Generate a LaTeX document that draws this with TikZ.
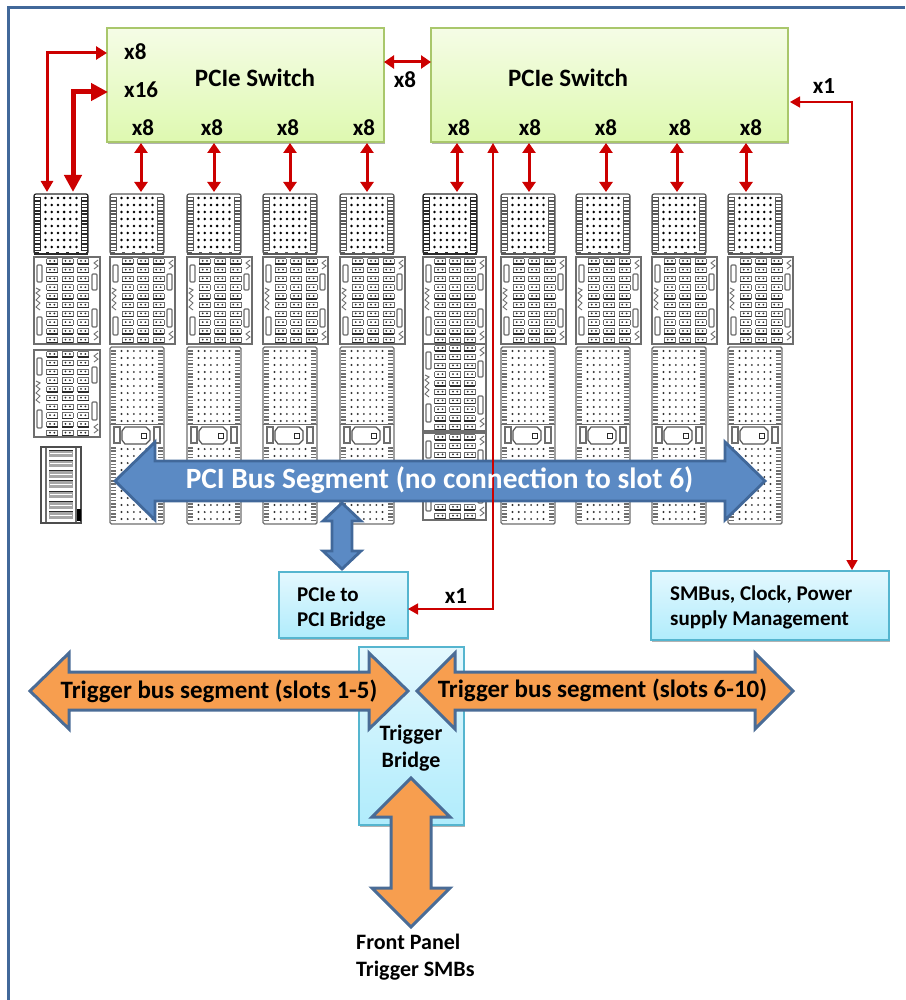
\documentclass[tikz,border=0pt]{standalone}
\usepackage{fontspec}
\setmainfont{Carlito}
\usetikzlibrary{arrows.meta,shadows}
\definecolor{frameblue}{HTML}{41689A}
\definecolor{redc}{HTML}{CC0000}
\definecolor{busfill}{HTML}{5B8AC4}
\definecolor{busline}{HTML}{41689A}
\definecolor{orfill}{HTML}{F79E4F}
\definecolor{orline}{HTML}{4A6C96}
\definecolor{grnline}{HTML}{A9C76B}
\definecolor{bluline}{HTML}{55B5CF}
\definecolor{mg}{HTML}{6E6E6E}
\definecolor{md}{HTML}{2A2A2A}
\tikzset{
  x=1pt,y=-1pt,
  softshadow/.style={drop shadow={shadow xshift=1pt,shadow yshift=-2pt,opacity=.3,fill=black}},
  greenbox/.style={draw=grnline,line width=1.6pt,top color={rgb,255:red,245;green,252;blue,230},bottom color={rgb,255:red,222;green,249;blue,176},inner sep=0,outer sep=0,softshadow},
  bluebox/.style={draw=bluline,line width=1.6pt,top color={rgb,255:red,228;green,248;blue,254},bottom color={rgb,255:red,176;green,236;blue,252},inner sep=0,outer sep=0,softshadow},
  lbl/.style={font=\fontsize{23}{27}\selectfont\bfseries,inner sep=0,text=black},
  swlbl/.style={font=\fontsize{25}{29}\selectfont\bfseries,inner sep=0,text=black},
  triglbl/.style={font=\fontsize{25}{29}\selectfont\bfseries,inner sep=0,text=black},
  boxlbl/.style={font=\fontsize{21}{25}\selectfont\bfseries,inner sep=0,align=left,text=black},
  boxlblb/.style={font=\fontsize{22}{27}\selectfont\bfseries,inner sep=0,align=left,text=black},
  redbi/.style={draw=redc,line width=3pt,{Triangle[length=10pt,width=13pt]}-{Triangle[length=10pt,width=13pt]}},
  redthin/.style={draw=redc,line width=1.5pt,{Triangle[length=10pt,width=11pt]}-{Triangle[length=10pt,width=11pt]}},
  busarrow/.style={fill=busfill,draw=busline,line width=2.8pt},
  orarrow/.style={fill=orfill,draw=orline,line width=3pt},
}
\newcommand\dblH[7]{\draw[#1] (#2,#4) -- (#2+#5,#4-#7) -- (#2+#5,#4-#6) -- (#3-#5,#4-#6) -- (#3-#5,#4-#7) -- (#3,#4) -- (#3-#5,#4+#7) -- (#3-#5,#4+#6) -- (#2+#5,#4+#6) -- (#2+#5,#4+#7) -- cycle;}
\newcommand\dblV[7]{\draw[#1] (#4,#2) -- (#4-#7,#2+#5) -- (#4-#6,#2+#5) -- (#4-#6,#3-#5) -- (#4-#7,#3-#5) -- (#4,#3) -- (#4+#7,#3-#5) -- (#4+#6,#3-#5) -- (#4+#6,#2+#5) -- (#4+#7,#2+#5) -- cycle;}
\newcommand\rails[5]{% x-left, x-right, y-from, y-to, colour
  \draw[#5,line width=4.5pt,dash pattern=on 1.5pt off 1.8pt] (#1+3,#3) -- (#1+3,#4) (#2-3,#3) -- (#2-3,#4);
}
% dense dotted header module
\newcommand\modA[3]{\begin{scope}[shift={(#1,#2)}]
  \draw[fill=white,draw=#3,line width=1.2pt,rounded corners=2pt] (0,0) rectangle (54,60);
  \rails{0.5}{53.5}{3}{57}{#3}
  \draw[#3,line width=1.3pt] (0.5,2) -- (0.5,58) (6.5,3) -- (6.5,57) (47.5,3) -- (47.5,57) (53.5,2) -- (53.5,58);
  \foreach \i in {0,...,5}\foreach \j in {0,...,7}
    \fill[black] (11.5+6.2*\i,4+7*\j) circle (1.4pt);
  \draw[#3,line width=2.6pt] (0,59.5) -- (54,59.5);
  \foreach \i in {0,...,4} \draw[white,line width=1pt] (5+10*\i,58) -- (12+10*\i,58);
\end{scope}}
% double-row box module
\newcommand\modB[3]{\begin{scope}[shift={(#1,#2)}]
  \draw[fill=white,draw=mg,line width=1.4pt] (0,0) -- (#3,0) -- (#3,87) -- (0,87) -- cycle;
  \draw[mg,line width=1.1pt,fill=white,rounded corners=1pt] (3,8) rectangle (8,25) (3,60) rectangle (8,78);
  \draw[mg,line width=1.1pt,fill=white,rounded corners=1pt] (#3-8,17) rectangle (#3-3,33) (#3-8,52) rectangle (#3-3,70);
  \draw[mg,line width=.9pt] (2,31) -- (6,33) -- (2,36) -- (6,39) -- (2,43) -- (6,46) -- (2,50) -- (6,53);
  \draw[mg,line width=.9pt] (#3-2,3) -- (#3-6,6) -- (#3-2,9) -- (#3-6,12);
  \draw[mg,line width=.9pt] (#3-2,74) -- (#3-6,77) -- (#3-2,80) -- (#3-6,83);
  \foreach \i in {0,1,2}\foreach \j in {0,...,9}{
    \pgfmathsetmacro\cx{#3*(0.275+0.235*\i)}
    \pgfmathsetmacro\cy{1.5+8.75*\j}
    \draw[mg,line width=.8pt] (\cx-5.5,\cy) -- (\cx-5.5,\cy+5.5) (\cx+5.5,\cy) -- (\cx+5.5,\cy+5.5) (\cx-5.5,\cy) -- (\cx+5.5,\cy);
    \draw[md,line width=1.4pt] (\cx-5.5,\cy+5.5) -- (\cx+5.5,\cy+5.5);
    \fill[md] (\cx-2.2,\cy+2.4) circle (1pt) (\cx+2.2,\cy+2.4) circle (1pt);
  }
\end{scope}}
% long dotted module with key
\newcommand\modC[2]{\begin{scope}[shift={(#1,#2)}]
  \draw[fill=white,draw=mg,line width=1.4pt,rounded corners=1.5pt] (0,0) rectangle (54,177);
  \rails{0.5}{53.5}{3}{76}{mg}
  \rails{0.5}{53.5}{100}{175}{mg}
  \foreach \i in {0,...,5}{
    \foreach \j in {0,...,10} \fill[black!80] (11.5+6.2*\i,4+7*\j) circle (1.05pt);
    \foreach \j in {0,...,10} \fill[black!80] (11.5+6.2*\i,102+7*\j) circle (1.05pt);}
  \draw[mg,line width=1pt] (0,77) -- (54,77);
  \draw[mg,line width=1.2pt,fill=white] (4,80) rectangle (10,96) (44,80) rectangle (50,96);
  \draw[md!80,line width=1.2pt,fill=white] (15,80) -- (36,80) -- (40,84) -- (40,93) -- (36,97) -- (15,97) -- (12,93) -- (12,84) -- cycle;
  \draw[md,line width=.9pt] (31,86) rectangle (36,91);
\end{scope}}
% ladder module
\newcommand\modD[2]{\begin{scope}[shift={(#1,#2)}]
  \draw[fill=white,draw=mg!70!black,line width=1.4pt] (0,0) rectangle (40,76);
  \draw[mg,line width=1.2pt] (5,1) -- (5,75) (35,1) -- (35,75);
  \foreach \j in {0,...,6}{
    \fill[black!35] (8,3+10.3*\j) rectangle (32,10+10.3*\j);
    \draw[md,line width=.9pt] (8,3+10.3*\j) -- (32,3+10.3*\j);
    \draw[white,line width=.7pt] (9,6.5+10.3*\j) -- (31,6.5+10.3*\j);
  }
  \fill[black] (36,62) rectangle (40,74);
\end{scope}}
\begin{document}
\begin{tikzpicture}
\useasboundingbox (0,0) rectangle (905,1000);
\draw[frameblue,line width=3pt] (905,8) -- (8.5,8) -- (8.5,1000);

% slot hardware
\modA{34}{194}{md}
\modB{34}{257}{66}
\modB{34}{350}{66}
\modD{41}{447}
\foreach \x in {110,187,263,340,501,576,652,728}{
  \modA{\x}{194}{black!65}
  \modB{\x}{257}{65}
  \modC{\x}{347}
}
\modA{423}{194}{md}
\modB{423}{257}{63}
\modB{423}{344}{63}
\modB{423}{433}{63}

% boxes
\node[greenbox,minimum width=277pt,minimum height=114pt] (sw1) at (245.5,85) {};
\node[greenbox,minimum width=357pt,minimum height=114pt] (sw2) at (609.5,85) {};
\node[bluebox,minimum width=129pt,minimum height=66pt] (pcib) at (343.5,605) {};
\node[bluebox,minimum width=238pt,minimum height=69pt] (smb) at (770,605.5) {};
\node[bluebox,minimum width=105pt,minimum height=178pt] (trig) at (411.5,736) {};

% big arrows
\dblV{busarrow}{503}{569}{342}{18}{10}{19}
\dblH{busarrow}{115}{765}{481}{40}{20}{39}
\dblH{orarrow}{30}{408}{691}{39}{19}{38}
\dblH{orarrow}{417}{793}{691}{38}{19}{38}
\dblV{orarrow}{778}{927}{411}{39}{20}{39}

% red connectors
\coordinate (sxa) at (47,192);
\coordinate (sxb) at (73,192);
\coordinate (j1) at (47,53);
\coordinate (i1) at (sw1.west |- j1);
\coordinate (j2) at (73,92);
\coordinate (i2) at (sw1.west |- j2);
\draw[draw=redc,line width=3pt,{Triangle[length=11pt,width=12pt]}-{Triangle[length=11pt,width=13pt]}] (sxa) -- (j1) -- (i1);
\draw[draw=redc,line width=5pt,{Triangle[length=17pt,width=17pt]}-{Triangle[length=17pt,width=17pt]}] (sxb) -- (j2) -- ([xshift=1pt]i2);
\foreach \x in {141,214,290,367,457,529,606,677,746}{
  \coordinate (up) at (\x,143);
  \coordinate (dn) at (\x,192);
  \draw[redbi] (up) -- (dn);
}
\coordinate (xa) at (sw1.east |- 0,62);
\coordinate (xb) at (sw2.west |- 0,62);
\draw[redbi] (xa) -- (xb);
\coordinate (r1) at (790,102);
\coordinate (r2) at (852,102);
\coordinate (r3) at (852,570);
\draw[redthin] (r1) -- (r2) -- (r3);
\coordinate (m1) at (493,143);
\coordinate (m2) at (493,609);
\draw[redthin] (m1) -- (m2) -- (pcib.east |- m2);

% labels
\node[swlbl] (t1) at (255,78) {PCIe Switch};
\node[swlbl] (t2) at (568,78) {PCIe Switch};
\node[lbl,anchor=west] (l1) at (124,52) {x8};
\node[lbl,anchor=west] (l2) at (124,90) {x16};
\foreach \n/\x in {a/143,b/212,c/288,d/364,e/459,f/530,g/606,h/680,i/751}
  \node[lbl] (xl\n) at (\x,128) {x8};
\node[lbl] (l3) at (405,80) {x8};
\node[lbl] (l4) at (824,86) {x1};
\node[lbl] (l5) at (456,596) {x1};
\node[inner sep=0,text=white,font=\fontsize{29.4}{34}\selectfont\bfseries] (busl) at (439.5,480) {PCI Bus Segment (no connection to slot 6)};
\node[triglbl] (t3) at (219,691) {Trigger bus segment (slots 1-5)};
\node[triglbl] (t4) at (602.5,690) {Trigger bus segment (slots 6-10)};
\node[boxlbl,anchor=west] (t5) at (297,608.5) {PCIe to\\PCI Bridge};
\node[boxlbl,anchor=west] (t6) at (670,607.5) {SMBus, Clock, Power\\supply Management};
\node[boxlblb,align=center] (t7) at (411,748) {Trigger\\Bridge};
\node[boxlblb,anchor=west] (t8) at (356,957) {Front Panel\\Trigger SMBs};
\end{tikzpicture}
\end{document}
